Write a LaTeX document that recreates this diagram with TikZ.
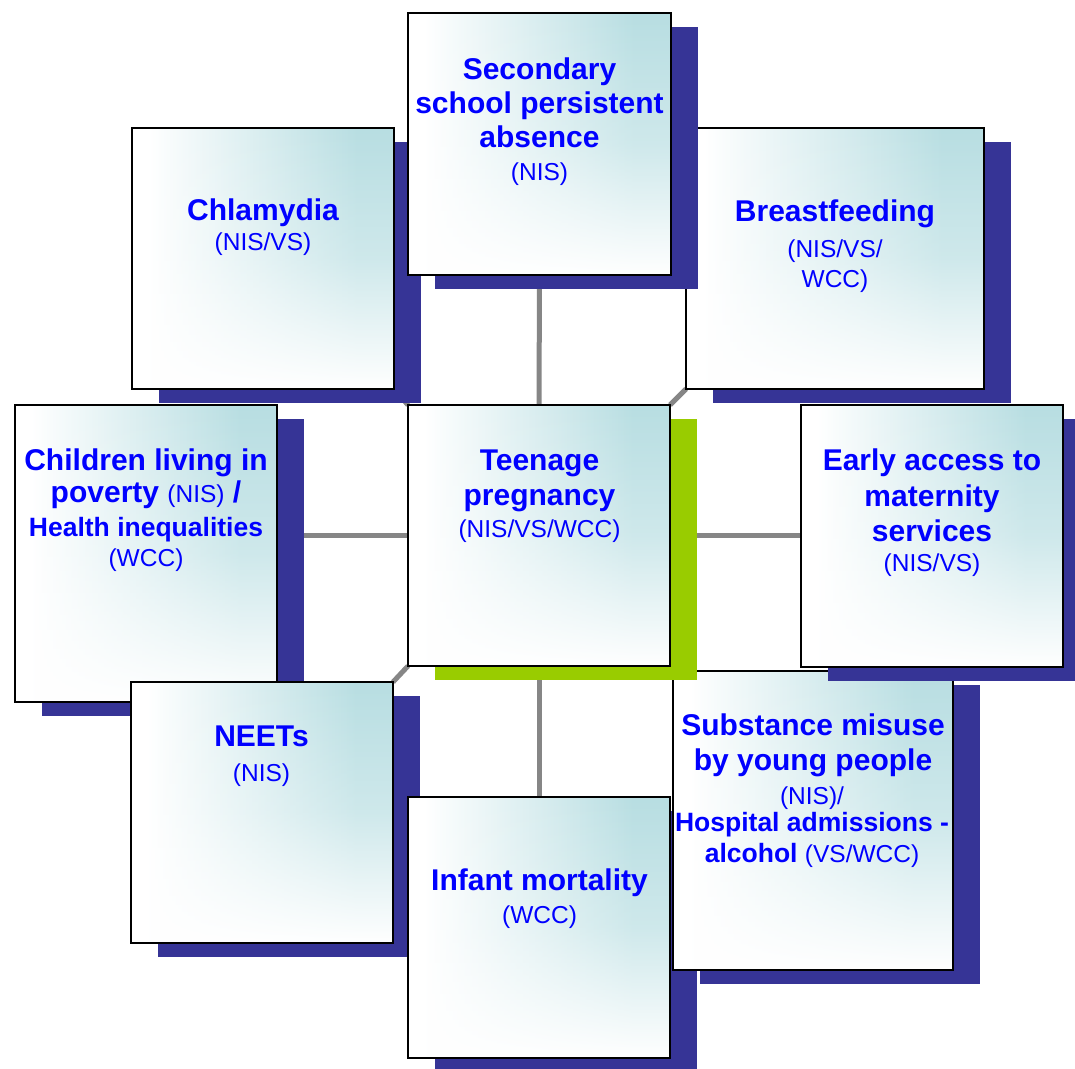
\documentclass[tikz,border=0pt]{standalone}
\usepackage{fontspec}
\setmainfont{Liberation Sans}
\usetikzlibrary{fadings,fit}
\definecolor{shadowblue}{RGB}{54,52,150}
\definecolor{limeg}{RGB}{153,204,0}
\definecolor{tealc}{RGB}{184,222,226}
\definecolor{linegray}{RGB}{134,134,134}
\definecolor{txtblue}{RGB}{0,0,255}
\pgfdeclarehorizontalshading{boxh}{100bp}{color(0bp)=(white); color(28bp)=(white); color(68bp)=(tealc); color(100bp)=(tealc)}
\tikzfading[name=fadedn, top color=transparent!100, bottom color=transparent!0, middle color=transparent!68]
\pgfdeclarelayer{bg}
\pgfsetlayers{bg,main}
\newcommand\rg[1]{{\fontsize{24.5}{30}\selectfont\mdseries #1}}
\newcommand\panel[6]{%
  \fill[#6] (#2+27,#3+14) rectangle (#4+27,#5+14);
  \shade[shading=boxh] (#2,#3) rectangle (#4,#5);
  \fill[white, path fading=fadedn] (#2,#3) rectangle (#4,#5);
  \node[boxframe, fit={(#2,#3) (#4,#5)}] (#1) {};
}
\tikzset{
  boxframe/.style={draw=black, line width=2pt, inner sep=0pt, outer sep=0pt},
  conn/.style={draw=linegray, line width=5pt},
  tb/.style={font=\fontsize{30}{34}\selectfont\bfseries, text=txtblue, inner sep=0pt, anchor=base},
  tr/.style={font=\fontsize{24.5}{30}\selectfont, text=txtblue, inner sep=0pt, anchor=base},
  ts/.style={font=\fontsize{26.5}{30}\selectfont\bfseries, text=txtblue, inner sep=0pt, anchor=base},
}
\begin{document}
\begin{tikzpicture}[x=1pt,y=-1pt]
\useasboundingbox (0,0) rectangle (1075,1068);

\panel{brf}{686}{128}{984}{389}{shadowblue}
\panel{chl}{132}{128}{394}{389}{shadowblue}
\panel{top}{408}{13}{671}{275}{shadowblue}
\panel{chi}{15}{405}{277}{702}{shadowblue}
\panel{nee}{131}{682}{393}{943}{shadowblue}
\panel{inf}{408}{797}{670}{1058}{shadowblue}
\panel{sub}{673}{671}{953}{970}{shadowblue}
\panel{ear}{801}{405}{1063}{667}{shadowblue}
\panel{ctr}{408}{405}{670}{666}{limeg}

\begin{pgfonlayer}{bg}
\fill[white] (0,0) rectangle (1075,1068);
\draw[conn] (top.south) -- (ctr.north);
\draw[conn] (ctr.south) -- (inf.north);
\draw[conn] (ctr.west) -- (ctr.west -| chi.east);
\draw[conn] (ctr.east) -- (ctr.east -| ear.west);
\draw[conn] (chl.south east) -- (ctr.north west);
\draw[conn] (brf.south west) -- (ctr.north east);
\draw[conn] (nee.north east) -- (ctr.south west);
\draw[conn] (sub.north west) -- (ctr.south east);
\end{pgfonlayer}

% top
\node[tb] (top1) at (539.5,79) {Secondary};
\node[tb] (top2) at (539.5,113.3) {school persistent};
\node[tb] (top3) at (539.5,147.7) {absence};
\node[tr] (top4) at (539.5,180) {(NIS)};
% chlamydia
\node[tb] (chl1) at (263,220) {Chlamydia};
\node[tr] (chl2) at (263,250) {(NIS/VS)};
% breastfeeding
\node[tb] (brf1) at (835,221) {Breastfeeding};
\node[tr] (brf2) at (835,257.7) {(NIS/VS/};
\node[tr] (brf3) at (835,287.7) {WCC)};
% children
\node[tb] (chi1) at (146,470) {Children living in};
\node[tb] (chi2) at (146,502) {poverty \rg{(NIS)} /};
\node[ts] (chi3) at (146,536.7) {Health inequalities};
\node[tr] (chi4) at (146,566.7) {(WCC)};
% centre
\node[tb] (ctr1) at (539.5,470.5) {Teenage};
\node[tb] (ctr2) at (539.5,505) {pregnancy};
\node[tr] (ctr3) at (539.5,537) {(NIS/VS/WCC)};
% early access
\node[tb] (ear1) at (932,470) {Early access to};
\node[tb] (ear2) at (932,506.7) {maternity};
\node[tb] (ear3) at (932,541.7) {services};
\node[tr] (ear4) at (932,571.7) {(NIS/VS)};
% NEETs
\node[tb] (nee1) at (261.5,746.7) {NEETs};
\node[tr] (nee2) at (261.5,781.7) {(NIS)};
% infant
\node[tb] (inf1) at (539.5,890) {Infant mortality};
\node[tr] (inf2) at (539.5,923.3) {(WCC)};
% substance
\node[tb] (sub1) at (813,735) {Substance misuse};
\node[tb] (sub2) at (813,770) {by young people};
\node[tr] (sub3) at (812,804) {(NIS)/};
\node[ts] (sub4) at (812,831.7) {Hospital admissions -};
\node[ts] (sub5) at (812,862.7) {alcohol \rg{(VS/WCC)}};
\end{tikzpicture}
\end{document}
